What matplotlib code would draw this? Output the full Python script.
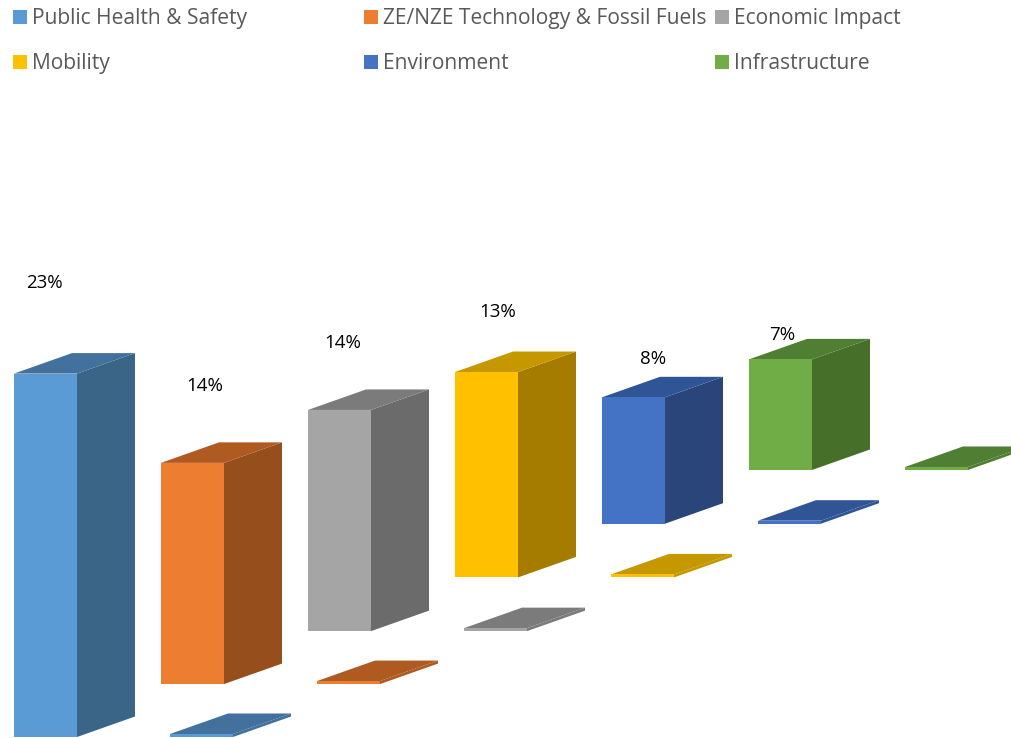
import matplotlib
matplotlib.use('Agg')
import matplotlib.pyplot as plt
from matplotlib.patches import Polygon, Rectangle

plt.rcParams['font.family'] = ['Open Sans', 'DejaVu Sans']

categories = ['Public Health & Safety', 'ZE/NZE Technology & Fossil Fuels', 'Economic Impact',
              'Mobility', 'Environment', 'Infrastructure']
values = [23, 14, 14, 13, 8, 7]
bases = [0, 3.35, 6.7, 10.1, 13.5, 16.9]
labels = ['23%', '14%', '14%', '13%', '8%', '7%']

front_colors = ['#5b9bd5', '#ed7d31', '#a5a5a5', '#ffc000', '#4472c4', '#70ad47']
top_colors = ['#41719c', '#ae5a21', '#7b7b7b', '#c59800', '#2f5597', '#507e32']
side_colors = ['#3a6587', '#964f1c', '#6b6b6b', '#a57c00', '#2a4579', '#466f2a']

# pixel layout of the original
W, H = 1011, 738
slot = 147.0      # px per category
unit = 15.8       # px per percent
x0 = 14
y0 = 737
bar_w = 63 / slot
depth_x = 58 / slot
depth_y = 20.5 / unit
flat_shift = 156 / slot
flat_h = 3 / unit
label_x = [44, 205, 343, 498, 653, 782]
label_y = [288, 391, 348, 317, 364, 340]
legend_x = [13, 364, 715, 13, 364, 715]
legend_y = [24, 24, 24, 69, 69, 69]

fig = plt.figure(figsize=(W / 100, H / 100), dpi=100)
ax = fig.add_axes([0, 0, 1, 1])
ax.set_xlim(-x0 / slot, (W - x0) / slot)
ax.set_ylim((y0 - H) / unit, y0 / unit)
ax.axis('off')


def box(x, base, value, front, top, side, z):
    ax.add_patch(Polygon([(x + bar_w, base), (x + bar_w + depth_x, base + depth_y),
                          (x + bar_w + depth_x, base + value + depth_y), (x + bar_w, base + value)],
                         fc=side, ec='none', zorder=z))
    ax.add_patch(Polygon([(x, base + value), (x + bar_w, base + value),
                          (x + bar_w + depth_x, base + value + depth_y), (x + depth_x, base + value + depth_y)],
                         fc=top, ec='none', zorder=z))
    ax.add_patch(Rectangle((x, base), bar_w, value, fc=front, ec='none', zorder=z))


for i, v in enumerate(values):
    box(i, bases[i], v, front_colors[i], top_colors[i], side_colors[i], 2)
    # flat second series, zero height, side blends into the top
    box(i + flat_shift, bases[i], flat_h, front_colors[i], top_colors[i], top_colors[i], 1)

# px coords for the texts and legend
to_data = lambda px, py: ((px - x0) / slot, (y0 - py) / unit)

for i, lab in enumerate(labels):
    xt, yt = to_data(label_x[i], label_y[i])
    ax.text(xt, yt, lab, fontsize=13.5, color='black', ha='center', va='baseline')

for i, name in enumerate(categories):
    xl, yl = to_data(legend_x[i], legend_y[i])
    ax.add_patch(Rectangle((xl, yl), 14 / slot, 14 / unit, fc=front_colors[i], ec='none'))
    xt, yt = to_data(legend_x[i] + 19, legend_y[i])
    ax.text(xt, yt, name, fontsize=15.1, color='#595959', ha='left', va='baseline')

fig.savefig('out.png', dpi=100)
